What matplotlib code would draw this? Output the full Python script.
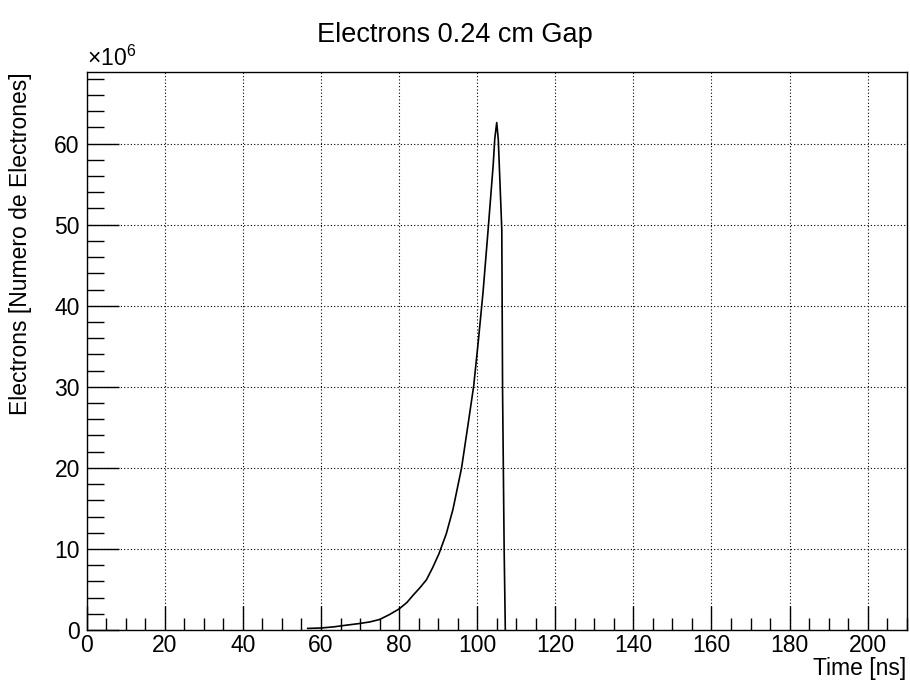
import numpy as np
import matplotlib.pyplot as plt
from matplotlib.ticker import MultipleLocator

plt.rcParams['font.family'] = ['Liberation Sans', 'DejaVu Sans']
plt.rcParams['mathtext.fontset'] = 'custom'
plt.rcParams['mathtext.rm'] = 'Liberation Sans'

# Time [ns] and electron count (units of 1e6)
time_ns = [56.6, 60.0, 63.4, 66.5, 69.8, 72.5, 75.0, 77.5, 80.0, 82.0, 83.6,
           85.3, 87.0, 88.6, 90.2, 92.1, 93.8, 96.0, 97.7, 99.1, 100.3,
           101.5, 102.8, 104.1, 104.5, 105.0, 105.4, 106.3, 106.5, 106.9, 107.2]
electrons = [0.2, 0.25, 0.4, 0.6, 0.8, 1.0, 1.3, 1.9, 2.6, 3.4, 4.3,
             5.2, 6.2, 7.7, 9.4, 11.9, 14.9, 20.0, 25.5, 30.1, 35.7,
             41.7, 49.4, 57.4, 60.6, 62.6, 60.5, 49.4, 29.4, 10.0, 0.0]

fs = 16.5  # ROOT default text size, 0.035 of pad height

fig = plt.figure(figsize=(9.1, 6.82), dpi=100)
ax = fig.add_axes([0.0953, 0.0762, 0.9011, 0.8178])

ax.plot(time_ns, electrons, color='black', linewidth=1.2)

ax.set_xlim(0, 210)
ax.set_ylim(0, 68.8)
ax.xaxis.set_major_locator(MultipleLocator(20))
ax.xaxis.set_minor_locator(MultipleLocator(5))
ax.yaxis.set_major_locator(MultipleLocator(10))
ax.yaxis.set_minor_locator(MultipleLocator(2))
ax.tick_params(which='both', direction='in', top=False, right=False,
               labelsize=fs, width=1)
ax.tick_params(axis='x', which='major', length=17, pad=3)
ax.tick_params(axis='x', which='minor', length=9)
ax.tick_params(axis='y', which='major', length=23, pad=5)
ax.tick_params(axis='y', which='minor', length=12)

ax.grid(True, which='major', color='black', linestyle=(0, (1, 2)), linewidth=0.8)

for s in ax.spines.values():
    s.set_linewidth(1.0)

ax.set_xlabel('Time [ns]', fontsize=fs, loc='right', labelpad=0)
ax.set_ylabel('Electrons [Numero de Electrones]', fontsize=fs, loc='top', labelpad=16)
ax.text(0.0, 1.003, r'$\times10^{6}$', transform=ax.transAxes, fontsize=fs,
        ha='left', va='bottom')

fig.suptitle('Electrons 0.24 cm Gap', fontsize=19.5, y=0.949, va='center')

fig.savefig('out.png', dpi=100)
